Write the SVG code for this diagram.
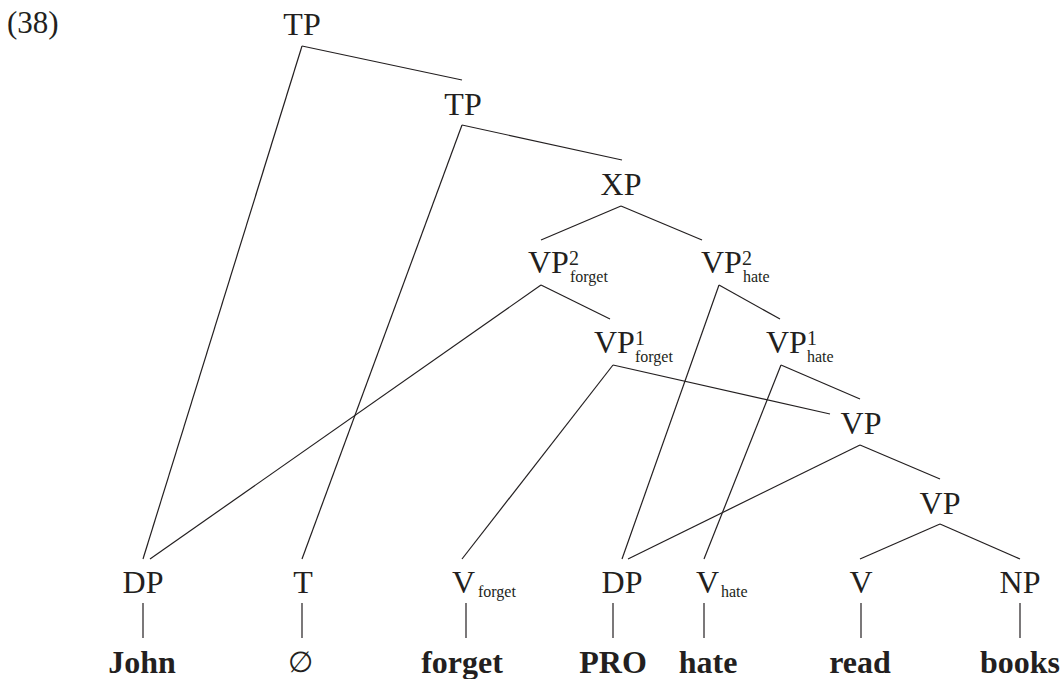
<svg xmlns="http://www.w3.org/2000/svg" width="1060" height="679" viewBox="0 0 1060 679">
<style>
text{font-family:"Liberation Serif","Times New Roman",serif;fill:#231f20}
.n{font-size:32px}
.m{text-anchor:middle}
.sub{font-size:16px}
.sup{font-size:20px}
.w{font-size:32px;font-weight:bold;text-anchor:middle}
#edges line{stroke:#231f20;stroke-width:1.2}
</style>
<rect width="1060" height="679" fill="#fff"/>
<text x="7" y="33" style="font-size:31px">(38)</text>
<g id="edges">
<line x1="302" y1="46" x2="462" y2="80"/>
<line x1="302" y1="46" x2="143" y2="559"/>
<line x1="462" y1="125" x2="622" y2="160"/>
<line x1="462" y1="125" x2="302" y2="559"/>
<line x1="621" y1="206" x2="541" y2="240"/>
<line x1="621" y1="206" x2="702" y2="240"/>
<line x1="541" y1="285" x2="610" y2="319"/>
<line x1="541" y1="285" x2="150" y2="559"/>
<line x1="719" y1="285" x2="780" y2="319"/>
<line x1="719" y1="285" x2="622" y2="559"/>
<line x1="613" y1="365" x2="462" y2="559"/>
<line x1="613" y1="365" x2="830" y2="414"/>
<line x1="781" y1="365" x2="704" y2="559"/>
<line x1="781" y1="365" x2="860" y2="399"/>
<line x1="860" y1="445" x2="628" y2="559"/>
<line x1="860" y1="445" x2="940" y2="479"/>
<line x1="940" y1="524" x2="860" y2="559"/>
<line x1="940" y1="524" x2="1020" y2="559"/>
<line x1="143" y1="603" x2="143" y2="638"/>
<line x1="302" y1="603" x2="302" y2="638"/>
<line x1="466" y1="603" x2="466" y2="638"/>
<line x1="613" y1="603" x2="613" y2="638"/>
<line x1="704" y1="603" x2="704" y2="638"/>
<line x1="861" y1="603" x2="861" y2="638"/>
<line x1="1020" y1="603" x2="1020" y2="638"/>
</g>
<g id="tp1"><text class="n m" x="302" y="35">TP</text></g>
<g id="tp2"><text class="n m" x="463" y="115">TP</text></g>
<g id="xp"><text class="n m" x="621" y="195">XP</text></g>
<g id="vp2forget"><text class="n" x="528" y="273">VP</text><text class="sup" x="569" y="265">2</text><text class="sub" x="570" y="282">forget</text></g>
<g id="vp2hate"><text class="n" x="701" y="273">VP</text><text class="sup" x="742" y="265">2</text><text class="sub" x="743" y="282">hate</text></g>
<g id="vp1forget"><text class="n" x="594" y="353">VP</text><text class="sup" x="635" y="345">1</text><text class="sub" x="635" y="362">forget</text></g>
<g id="vp1hate"><text class="n" x="766" y="353">VP</text><text class="sup" x="807" y="345">1</text><text class="sub" x="807" y="362">hate</text></g>
<g id="vp-mid"><text class="n m" x="861" y="434">VP</text></g>
<g id="vp-low"><text class="n m" x="940" y="514">VP</text></g>
<g id="dp-john"><text class="n m" x="143" y="593">DP</text><text class="w" x="142" y="673">John</text></g>
<g id="t"><text class="n m" x="303" y="593">T</text><text style="font-size:29px;font-family:'Liberation Serif','DejaVu Serif',serif" text-anchor="middle" x="300" y="672">∅</text></g>
<g id="v-forget"><text class="n" x="452" y="593">V</text><text class="sub" x="478" y="597">forget</text><text class="w" x="462" y="673">forget</text></g>
<g id="dp-pro"><text class="n m" x="622" y="593">DP</text><text class="w" x="613" y="673">PRO</text></g>
<g id="v-hate"><text class="n" x="696" y="593">V</text><text class="sub" x="721" y="597">hate</text><text class="w" x="708" y="673">hate</text></g>
<g id="v-read"><text class="n m" x="861" y="593">V</text><text class="w" x="860" y="673">read</text></g>
<g id="np"><text class="n m" x="1020" y="593">NP</text><text class="w" x="1020" y="673">books</text></g>
</svg>
